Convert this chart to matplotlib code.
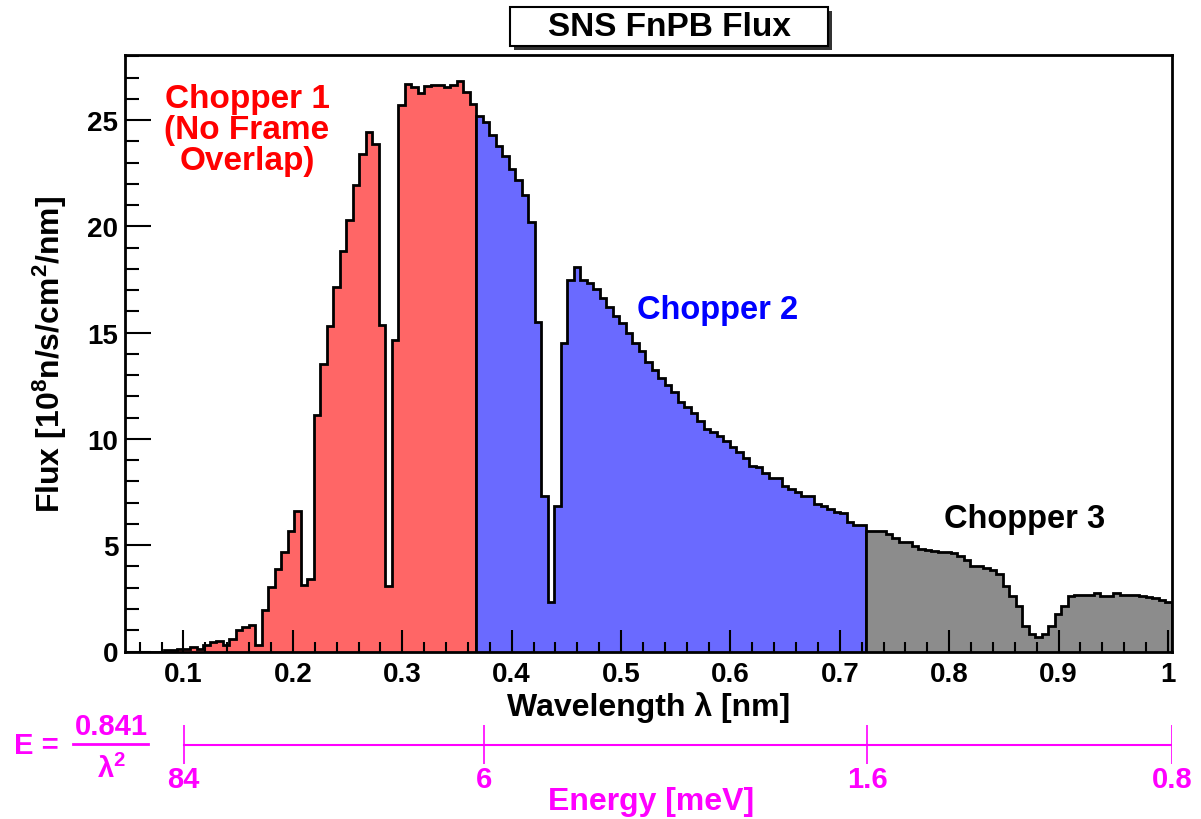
import matplotlib
matplotlib.use('Agg')
import matplotlib.pyplot as plt
import numpy as np
from matplotlib.patches import Rectangle
from matplotlib.lines import Line2D
from matplotlib.ticker import MultipleLocator, FuncFormatter

plt.rcParams['font.family'] = ['Liberation Sans', 'DejaVu Sans']
plt.rcParams['font.weight'] = 'bold'
plt.rcParams['mathtext.fontset'] = 'custom'
plt.rcParams['mathtext.rm'] = 'Liberation Sans:bold'
plt.rcParams['mathtext.it'] = 'Liberation Sans:bold'
plt.rcParams['mathtext.bf'] = 'Liberation Sans:bold'

# wavelength binning of the histogram (nm)
lam_min = 0.0468
lam_max = 1.0032
n_bins = 161

# flux per bin [10^8 n/s/cm^2/nm], one list per chopper window
flux_chopper1 = [0, 0, 0, 0, 0, 0, 0.08, 0.08, 0.1, 0.1,
                 0.2, 0.1, 0.3, 0.45, 0.5, 0.3, 0.6, 1.0, 1.15, 1.25,
                 0.3, 1.95, 3.05, 3.9, 4.7, 5.65, 6.6, 3.15, 3.4, 11.15,
                 13.55, 15.33, 17.14, 18.86, 20.32, 21.95, 23.41, 24.43, 23.88, 15.36,
                 3.1, 14.67, 25.72, 26.7, 26.55, 26.3, 26.6, 26.65, 26.65, 26.55,
                 26.65, 26.83, 26.35, 25.76]
flux_chopper2 = [25.19, 24.93, 24.3, 23.8, 23.3, 22.7, 22.2, 21.48, 20.23, 15.52,
                 7.3, 2.34, 6.86, 14.5, 17.48, 18.08, 17.48, 17.34, 17.06, 16.62,
                 16.2, 15.8, 15.44, 15.0, 14.5, 14.12, 13.62, 13.24, 12.88, 12.52,
                 12.23, 11.73, 11.49, 11.22, 10.86, 10.47, 10.31, 10.13, 9.92, 9.61,
                 9.4, 9.09, 8.74, 8.67, 8.4, 8.15, 8.15, 7.8, 7.65, 7.52,
                 7.3, 7.3, 6.94, 6.86, 6.7, 6.58, 6.5, 6.08, 5.97, 5.97]
flux_chopper3 = [5.66, 5.66, 5.66, 5.53, 5.33, 5.14, 5.17, 4.98, 4.82, 4.79,
                 4.71, 4.67, 4.67, 4.62, 4.51, 4.3, 4.04, 4.04, 3.93, 3.85,
                 3.65, 3.07, 2.63, 2.16, 1.22, 0.82, 0.67, 0.82, 1.19, 1.76,
                 2.16, 2.6, 2.66, 2.66, 2.66, 2.76, 2.63, 2.63, 2.76, 2.66,
                 2.66, 2.66, 2.6, 2.55, 2.5, 2.4, 2.35]

# energy scale E = 0.841/lambda^2 (meV)
energy_ticks = [84, 6, 1.6, 0.8]

edges = np.linspace(lam_min, lam_max, n_bins + 1)

W, H = 1201, 820
fig = plt.figure(figsize=(W / 100, H / 100), dpi=100)
ax = fig.add_axes([125.3 / W, 1 - 652.5 / H, (1171.5 - 125.3) / W, (652.5 - 56) / H])

segments = [(flux_chopper1, '#ff6666'), (flux_chopper2, '#6a6aff'), (flux_chopper3, '#8c8c8c')]
i0 = 0
for vals, col in segments:
    n = len(vals)
    ax.stairs(vals, edges[i0:i0 + n + 1], fill=True, facecolor=col,
              edgecolor='black', linewidth=2)
    i0 += n

ax.set_xlim(lam_min, lam_max)
ax.set_ylim(0, 28.07)
ax.xaxis.set_major_locator(MultipleLocator(0.1))
ax.xaxis.set_minor_locator(MultipleLocator(0.02))
ax.yaxis.set_major_locator(MultipleLocator(5))
ax.yaxis.set_minor_locator(MultipleLocator(1))
ax.xaxis.set_major_formatter(FuncFormatter(lambda v, p: '%g' % round(v, 3)))
ax.tick_params(which='both', direction='in', top=False, right=False, width=1.5,
               labelsize=20)
ax.tick_params(axis='x', which='major', length=16, pad=7)
ax.tick_params(axis='x', which='minor', length=7.5)
ax.tick_params(axis='y', which='major', length=19, pad=5)
ax.tick_params(axis='y', which='minor', length=10)
for s in ax.spines.values():
    s.set_linewidth(2)

ax.set_xlabel('Wavelength λ [nm]', fontsize=23, fontweight='bold')
ax.xaxis.set_label_coords(0.5, (652.5 - 708) / 596.5)
ax.xaxis.label.set_va('center')
ax.set_ylabel('Flux [10$^{8}$n/s/cm$^{2}$/nm]', fontsize=23, fontweight='bold')
ax.yaxis.set_label_coords((50 - 125.3) / 1046.2, 0.5)
ax.yaxis.label.set_va('center')

ax.text(0.158, 24.55, 'Chopper 1\n(No Frame\nOverlap)', color='#ff0000', fontsize=24,
        fontweight='bold', ha='center', va='center', linespacing=1.0)
ax.text(0.588, 16.1, 'Chopper 2', color='#0000ff', fontsize=23.5, fontweight='bold',
        ha='center', va='center')
ax.text(0.869, 6.24, 'Chopper 3', color='black', fontsize=23.5, fontweight='bold',
        ha='center', va='center')

# title pave with shadow
fig.add_artist(Rectangle((514 / W, 1 - 51 / H), 318 / W, 39 / H, transform=fig.transFigure,
                         facecolor='#333333', edgecolor='none'))
fig.add_artist(Rectangle((510 / W, 1 - 47 / H), 318 / W, 39 / H, transform=fig.transFigure,
                         facecolor='white', edgecolor='black', linewidth=1.5))
fig.text(669 / W, 1 - 27.5 / H, 'SNS FnPB Flux', fontsize=24, fontweight='bold',
         ha='center', va='center')

# energy axis below
mag = '#ff00ff'
axe = fig.add_axes([125.3 / W, 1 - 765 / H, (1171.5 - 125.3) / W, (765 - 726) / H])
axe.set_xlim(lam_min, lam_max)
axe.set_ylim(-1, 1)
axe.axis('off')
e_pos = np.clip(np.sqrt(0.841 / np.array(energy_ticks)), 0.1, 1.004)
axe.plot([e_pos[0], e_pos[-1]], [0, 0], color=mag, lw=1.5)
axe.vlines(e_pos, -1, 1, color=mag, lw=1.2)
for x, e in zip(e_pos, energy_ticks):
    axe.text(x, -1.05, '%g' % e, color=mag, fontsize=21, fontweight='bold',
             ha='center', va='top')
fig.text(651 / W, 1 - 802 / H, 'Energy [meV]', color=mag, fontsize=23,
         fontweight='bold', ha='center', va='center')

fig.text(36 / W, 1 - 746 / H, 'E =', color=mag, fontsize=21, fontweight='bold',
         ha='center', va='center')
fig.text(111 / W, 1 - 727 / H, '0.841', color=mag, fontsize=21, fontweight='bold',
         ha='center', va='center')
fig.add_artist(Line2D([73 / W, 148 / W], [1 - 745 / H, 1 - 745 / H],
                      transform=fig.transFigure, color=mag, lw=2))
fig.text(111 / W, 1 - 769 / H, 'λ$^{2}$', color=mag, fontsize=21, fontweight='bold',
         ha='center', va='center')

fig.savefig('out.png', dpi=100)
